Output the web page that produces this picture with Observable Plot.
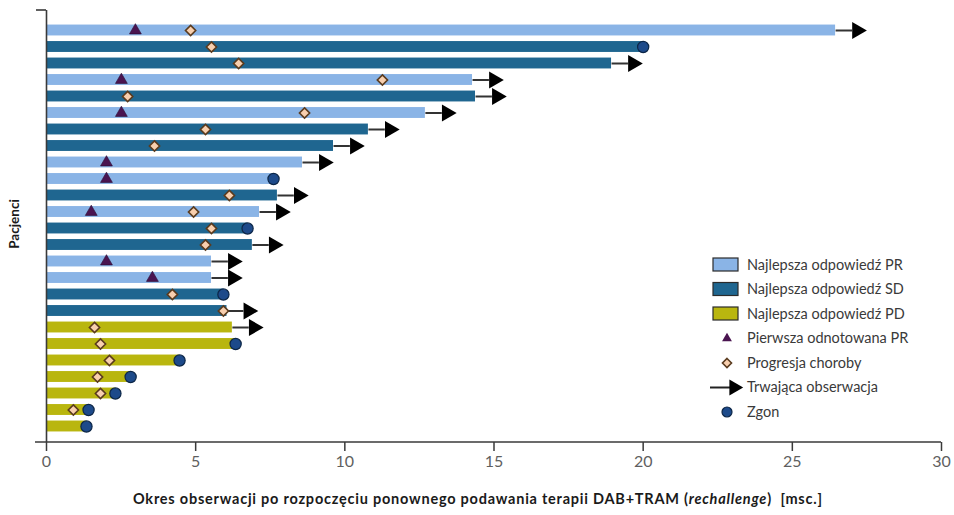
<!DOCTYPE html>
<html>
<head>
<meta charset="utf-8">
<script src="https://cdn.jsdelivr.net/npm/d3@7"></script>
<script src="https://cdn.jsdelivr.net/npm/@observablehq/plot@0.6"></script>
<style>
  html, body { margin: 0; padding: 0; background: #fff; }
  #chart { width: 954px; height: 515px; }
  svg { font-family: Lato, "Open Sans", sans-serif; }
</style>
</head>
<body>
<div id="chart"></div>
<script>
// Swimmer plot: follow-up after DAB+TRAM rechallenge, one row per patient
const patients   = d3.range(1, 26).map(String);
const response   = ["PR","SD","SD","PR","SD","PR","SD","SD","PR","PR","SD","PR","SD","SD","PR","PR","SD","SD","PD","PD","PD","PD","PD","PD","PD"];
const followUp   = [26.45, 20.0, 18.94, 14.28, 14.38, 12.7, 10.79, 9.62, 8.58, 7.61, 7.74, 7.14, 6.74, 6.9, 5.53, 5.53, 5.93, 6.05, 6.23, 6.34, 4.46, 2.82, 2.31, 1.41, 1.34];
const ongoing    = [true, false, true, true, true, true, true, true, true, false, true, true, false, true, true, true, false, true, true, false, false, false, false, false, false];
const firstPR    = [2.98, null, null, 2.51, null, 2.51, null, null, 2.01, 2.01, null, 1.5, null, null, 2.01, 3.55, null, null, null, null, null, null, null, null, null];
const progression= [4.83, 5.53, 6.44, 11.26, 2.72, 8.65, 5.33, 3.62, null, null, 6.13, 4.93, 5.53, 5.33, null, null, 4.22, 5.93, 1.61, 1.81, 2.11, 1.71, 1.81, 0.9, null];
const xTicks     = [0, 5, 10, 15, 20, 25, 30];

const responseKeys   = ["PR", "SD", "PD"];
const responseLabels = ["Najlepsza odpowiedź PR", "Najlepsza odpowiedź SD", "Najlepsza odpowiedź PD"];
const responseColors = ["#8ab4e6", "#1f6690", "#b9b60f"];
const markerLabels   = ["Pierwsza odnotowana PR", "Progresja choroby", "Trwająca obserwacja", "Zgon"];
const xTitle = ["Okres obserwacji po rozpoczęciu ponownego podawania terapii DAB+TRAM (", "rechallenge", ")  [msc.]"];
const yTitle = "Pacjenci";

const colTri = "#4a1450", colDiaFill = "#f8cfae", colDiaStroke = "#5a3b1e";
const colDeath = "#1d4a8a", colDeathStroke = "#0c2647";

const rows = patients.map((id, i) => ({
  id, response: response[i], end: followUp[i], ongoing: ongoing[i],
  firstPR: firstPR[i], progression: progression[i]
}));
const arrowLine = 0.55;   // shaft length (months) of the ongoing arrow
const arrowHead = 0.72;   // centroid offset of the arrow head

const chart = Plot.plot({
  width: 954,
  height: 515,
  marginLeft: 46,
  marginRight: 13,
  marginTop: 10,
  marginBottom: 73,
  style: {fontFamily: "Lato, 'Open Sans', sans-serif", background: "#fff"},
  x: {domain: [0, 30]},
  y: {domain: patients, range: [21.75, 434.25], padding: 0, round: false, axis: null},
  color: {domain: responseKeys, range: responseColors},
  marks: [
    Plot.barX(rows, {x1: 0, x2: "end", y: "id", fill: "response", insetTop: 2.8, insetBottom: 2.8}),
    Plot.link(rows.filter(d => d.ongoing), {
      x1: "end", x2: d => d.end + arrowLine, y1: "id", y2: "id",
      stroke: "#333", strokeWidth: 2
    }),
    Plot.dot(rows.filter(d => d.ongoing), {
      x: d => d.end + arrowHead, y: "id", symbol: "triangle", rotate: 90,
      r: 6.3, fill: "#000"
    }),
    Plot.dot(rows.filter(d => d.firstPR != null), {
      x: "firstPR", y: "id", symbol: "triangle", r: 4.4, fill: colTri, stroke: "#2a0a30", strokeWidth: 0.6
    }),
    Plot.dot(rows.filter(d => d.progression != null), {
      x: "progression", y: "id", symbol: "diamond2", r: 4.6,
      fill: colDiaFill, stroke: colDiaStroke, strokeWidth: 1.6
    }),
    Plot.dot(rows.filter(d => !d.ongoing), {
      x: "end", y: "id", r: 5.6, fill: colDeath, stroke: colDeathStroke, strokeWidth: 1.2
    }),
    Plot.ruleX([0], {stroke: "#3a3a3a", strokeWidth: 1.6}),
    Plot.axisX({
      ticks: xTicks, tickSize: 9, tickPadding: 4, fontSize: 16, label: null,
      stroke: "#3a3a3a", strokeWidth: 1.5, color: "#5f5f5f", tickFormat: d => String(d)
    })
  ]
});

document.getElementById("chart").appendChild(chart);

// Axis lines, titles and legend drawn on top of the same SVG
const svg = d3.select(chart);
const sx = chart.scale("x");
const x0 = sx.apply(0), x30 = sx.apply(30);
const yTop = 10, yBottom = 515 - 73;

svg.append("line")
  .attr("x1", x0 - 11).attr("x2", x30).attr("y1", yBottom).attr("y2", yBottom)
  .attr("stroke", "#3a3a3a").attr("stroke-width", 1.6);
svg.append("line")
  .attr("x1", x0 - 10).attr("x2", x0).attr("y1", yTop).attr("y2", yTop)
  .attr("stroke", "#3a3a3a").attr("stroke-width", 1.6);

const title = svg.append("text")
  .attr("x", 133).attr("y", 500)
  .attr("text-anchor", "start").attr("dominant-baseline", "middle")
  .attr("textLength", 689).attr("lengthAdjust", "spacing")
  .attr("font-size", 14.5).attr("font-weight", "bold").attr("fill", "#1a1a1a");
title.append("tspan").text(xTitle[0]);
title.append("tspan").attr("font-style", "italic").text(xTitle[1]);
title.append("tspan").text(xTitle[2]);

svg.append("text")
  .attr("transform", "translate(16,224) rotate(-90)")
  .attr("text-anchor", "middle").attr("dominant-baseline", "middle")
  .attr("font-size", 13.5).attr("font-weight", "bold").attr("fill", "#1a1a1a")
  .text(yTitle);

const legend = svg.append("g").attr("transform", "translate(712,0)").attr("text-anchor", "start");
const rowY = i => 265 + i * 24.5;
const textX = 35;
const legendText = (i, s) => legend.append("text")
  .attr("x", textX).attr("y", rowY(i) + 1).attr("dominant-baseline", "middle")
  .attr("text-anchor", "start")
  .attr("font-size", 14.5).attr("fill", "#3a3a3a").text(s);

responseKeys.forEach((k, i) => {
  legend.append("rect")
    .attr("x", 1).attr("y", rowY(i) - 7).attr("width", 25).attr("height", 13)
    .attr("fill", responseColors[i]).attr("stroke", "#2b2b2b").attr("stroke-width", 1.2);
  legendText(i, responseLabels[i]);
});
legend.append("path")
  .attr("d", d3.symbol(d3.symbolTriangle, 42)())
  .attr("transform", `translate(15,${rowY(3)})`).attr("fill", colTri);
legendText(3, markerLabels[0]);
legend.append("path")
  .attr("d", d3.symbol(d3.symbolDiamond2, 52)())
  .attr("transform", `translate(15,${rowY(4)})`)
  .attr("fill", colDiaFill).attr("stroke", colDiaStroke).attr("stroke-width", 1.6);
legendText(4, markerLabels[1]);
legend.append("line")
  .attr("x1", -2).attr("x2", 18).attr("y1", rowY(5)).attr("y2", rowY(5))
  .attr("stroke", "#222").attr("stroke-width", 2);
legend.append("path")
  .attr("d", d3.symbol(d3.symbolTriangle, 110)())
  .attr("transform", `translate(22,${rowY(5)}) rotate(90)`).attr("fill", "#000");
legendText(5, markerLabels[2]);
legend.append("circle")
  .attr("cx", 15).attr("cy", rowY(6)).attr("r", 5)
  .attr("fill", colDeath).attr("stroke", colDeathStroke).attr("stroke-width", 1.2);
legendText(6, markerLabels[3]);
</script>
</body>
</html>
